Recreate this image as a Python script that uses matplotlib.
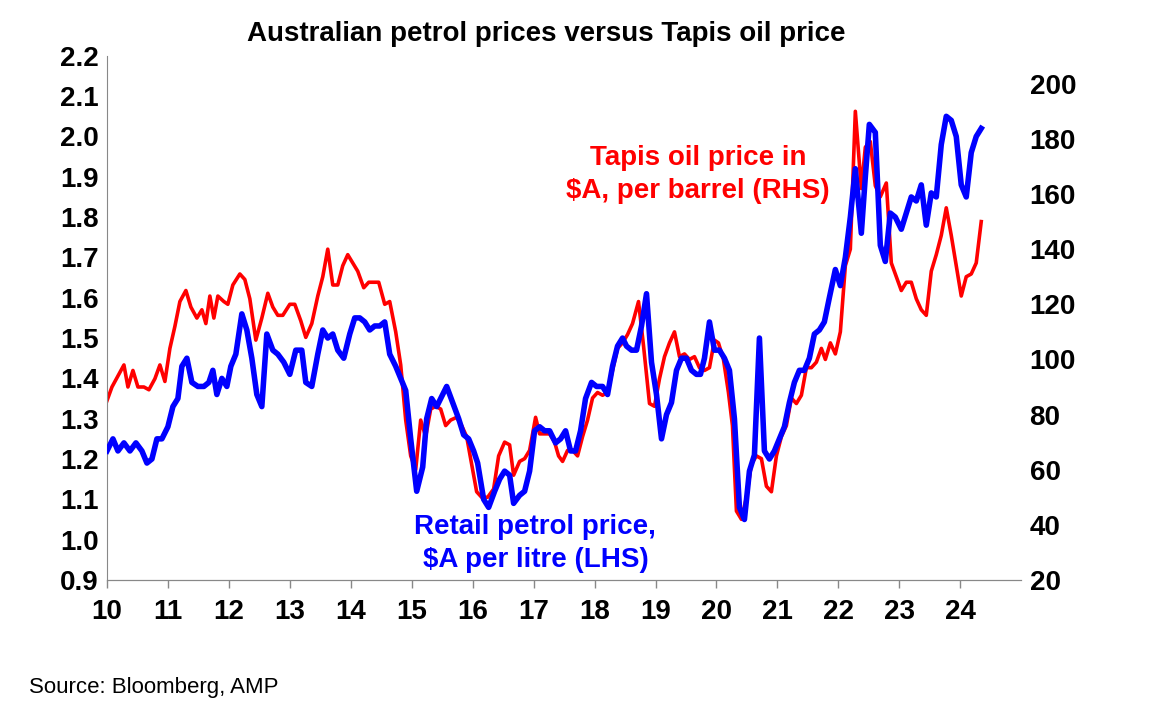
import numpy as np
import matplotlib
matplotlib.use('Agg')
import matplotlib.pyplot as plt

plt.rcParams['font.family'] = ['Liberation Sans', 'DejaVu Sans']

# pixel positions -> decimal years (10 at px 107, 61 px per year)
petrol_px = [107, 113, 118, 124, 130, 136, 142, 147, 152, 157, 162, 168, 173, 178, 182, 187, 192, 198, 204, 209,
             213, 217, 222, 227, 231, 236, 242, 247, 252, 257, 262, 267, 273, 278, 284, 290, 296, 302, 306, 312,
             318, 323, 328, 333, 338, 344, 350, 355, 360, 365, 370, 375, 380, 385, 390, 396, 401, 406, 411, 417,
             423, 427, 432, 437, 443, 447, 453, 459, 464, 469, 474, 478, 484, 489, 495, 500, 505, 510, 514, 520,
             525, 530, 535, 540, 545, 550, 556, 561, 566, 571, 576, 581, 586, 592, 597, 603, 608, 613, 618, 623,
             627, 632, 637, 642, 647, 652, 657, 662, 667, 672, 677, 682, 687, 692, 697, 701, 705, 710, 715, 720,
             725, 730, 735, 740, 745, 750, 755, 760, 765, 770, 775, 780, 785, 790, 795, 800, 805, 810, 815, 820,
             825, 830, 836, 841, 846, 851, 856, 862, 866, 870, 876, 881, 886, 891, 896, 902, 907, 912, 917, 922,
             927, 932, 937, 942, 947, 952, 957, 962, 967, 972, 977, 982]
petrol = [1.22, 1.25, 1.22, 1.24, 1.22, 1.24, 1.22, 1.19, 1.20, 1.25, 1.25, 1.28, 1.33, 1.35, 1.43, 1.45, 1.39, 1.38, 1.38, 1.39,
          1.42, 1.36, 1.40, 1.38, 1.43, 1.46, 1.56, 1.52, 1.45, 1.36, 1.33, 1.51, 1.47, 1.46, 1.44, 1.41, 1.47, 1.47, 1.39, 1.38,
          1.46, 1.52, 1.50, 1.51, 1.47, 1.45, 1.51, 1.55, 1.55, 1.54, 1.52, 1.53, 1.53, 1.54, 1.46, 1.43, 1.40, 1.37, 1.25, 1.12,
          1.18, 1.30, 1.35, 1.33, 1.36, 1.38, 1.34, 1.30, 1.26, 1.25, 1.22, 1.19, 1.10, 1.08, 1.12, 1.15, 1.17, 1.16, 1.09, 1.11,
          1.12, 1.17, 1.27, 1.28, 1.27, 1.27, 1.24, 1.25, 1.27, 1.22, 1.22, 1.27, 1.35, 1.39, 1.38, 1.38, 1.36, 1.43, 1.48, 1.50,
          1.48, 1.47, 1.47, 1.53, 1.61, 1.44, 1.36, 1.25, 1.31, 1.34, 1.42, 1.45, 1.45, 1.42, 1.41, 1.41, 1.45, 1.54, 1.47, 1.47,
          1.45, 1.42, 1.30, 1.08, 1.05, 1.17, 1.21, 1.50, 1.22, 1.20, 1.22, 1.25, 1.28, 1.34, 1.39, 1.42, 1.42, 1.45, 1.51, 1.52,
          1.54, 1.60, 1.67, 1.63, 1.70, 1.80, 1.92, 1.76, 1.90, 2.03, 2.01, 1.73, 1.69, 1.81, 1.80, 1.77, 1.81, 1.85, 1.84, 1.88,
          1.78, 1.86, 1.85, 1.98, 2.05, 2.04, 2.00, 1.88, 1.85, 1.96, 2.00, 2.02]

tapis_px = [107, 112, 118, 124, 128, 133, 138, 144, 149, 155, 160, 165, 170, 175, 180, 186, 191, 197, 202, 206,
            210, 214, 218, 224, 228, 233, 240, 245, 250, 256, 262, 268, 273, 278, 283, 290, 295, 301, 306, 312,
            318, 323, 328, 333, 338, 343, 348, 353, 358, 364, 369, 374, 379, 385, 390, 396, 401, 406, 411, 416,
            421, 426, 431, 436, 441, 446, 451, 457, 462, 467, 472, 477, 482, 488, 494, 499, 505, 510, 514, 520,
            525, 530, 536, 540, 545, 550, 555, 559, 563, 568, 573, 578, 583, 588, 593, 598, 603, 608, 613, 618,
            623, 628, 633, 639, 644, 650, 655, 660, 665, 670, 675, 680, 685, 690, 695, 700, 705, 710, 715, 719,
            724, 729, 733, 737, 742, 747, 752, 757, 762, 767, 772, 777, 782, 787, 792, 797, 802, 807, 812, 817,
            822, 826, 831, 836, 841, 846, 851, 856, 862, 866, 871, 876, 881, 887, 892, 897, 902, 907, 912, 917,
            922, 927, 932, 937, 942, 947, 952, 957, 962, 967, 972, 977, 982]
tapis = [85, 90, 94, 98, 90, 96, 90, 90, 89, 93, 98, 92, 104, 112, 121, 125, 119, 115, 118, 113,
         123, 115, 123, 121, 120, 127, 131, 129, 122, 107, 115, 124, 119, 116, 116, 120, 120, 114, 108, 113,
         123, 130, 140, 127, 127, 134, 138, 135, 132, 126, 128, 128, 128, 120, 121, 110, 98, 78, 65, 60,
         78, 72, 82, 83, 82, 76, 78, 79, 76, 72, 62, 52, 50, 50, 53, 65, 70, 69, 58, 63,
         64, 67, 79, 73, 73, 73, 70, 65, 63, 67, 67, 65, 72, 78, 86, 88, 87, 88, 96, 104,
         106, 109, 113, 121, 105, 84, 83, 93, 101, 106, 110, 101, 102, 100, 101, 97, 96, 97, 107, 106,
         100, 88, 76, 45, 42, 50, 62, 65, 64, 54, 52, 65, 72, 76, 86, 84, 87, 97, 97, 99,
         104, 100, 106, 102, 110, 134, 140, 190, 162, 177, 179, 163, 159, 164, 135, 130, 125, 128, 128, 122,
         118, 116, 132, 138, 145, 155, 145, 134, 123, 130, 131, 135, 150]

px_to_year = lambda p: 10 + (np.array(p) - 107) / 61.0

fig = plt.figure(figsize=(11.5, 7.16), dpi=100)
ax = fig.add_axes([0.093, 0.19, 0.795, 0.732])
ax2 = ax.twinx()

ax2.plot(px_to_year(tapis_px), tapis, color='#FF0000', lw=2.6, zorder=2)
ax.plot(px_to_year(petrol_px), petrol, color='#0000FF', lw=4, zorder=3)
ax.set_zorder(ax2.get_zorder() + 1)
ax.patch.set_visible(False)

ax.set_xlim(10, 25)
ax.set_ylim(0.9, 2.2)
ax2.set_ylim(20, 200 + 20 * 28 / 55.3)
ax2.set_yticks(range(20, 201, 20))
ax.set_xticks(range(10, 25))
ax.set_yticks(np.arange(0.9, 2.21, 0.1))
ax.set_yticklabels(['%.1f' % v for v in np.arange(0.9, 2.21, 0.1)])

for a in (ax, ax2):
    for s in ('top', 'right'):
        a.spines[s].set_visible(False)
    a.spines['bottom'].set_color('#888888')
    a.tick_params(labelsize=20, width=1, color='#888888')
ax2.spines['left'].set_visible(False)
ax.spines['left'].set_color('#888888')
ax.tick_params(axis='y', length=0, pad=6)
ax2.tick_params(axis='y', length=0, pad=6)
ax.tick_params(axis='x', length=6, direction='out', pad=8)
for lab in ax.get_xticklabels() + ax.get_yticklabels() + ax2.get_yticklabels():
    lab.set_fontweight('bold')

fig.text(0.475, 0.953, 'Australian petrol prices versus Tapis oil price', ha='center', va='center',
         fontsize=20, fontweight='bold')
ax.text(17.03, 0.99, 'Retail petrol price,\n$A per litre (LHS)', color='#0000FF', fontsize=20,
        fontweight='bold', ha='center', va='center', linespacing=1.35)
ax.text(19.7, 1.905, 'Tapis oil price in\n$A, per barrel (RHS)', color='#FF0000', fontsize=20,
        fontweight='bold', ha='center', va='center', linespacing=1.35)
fig.text(0.025, 0.04, 'Source: Bloomberg, AMP', fontsize=16, ha='left', va='center')

fig.savefig('out.png', dpi=100)
